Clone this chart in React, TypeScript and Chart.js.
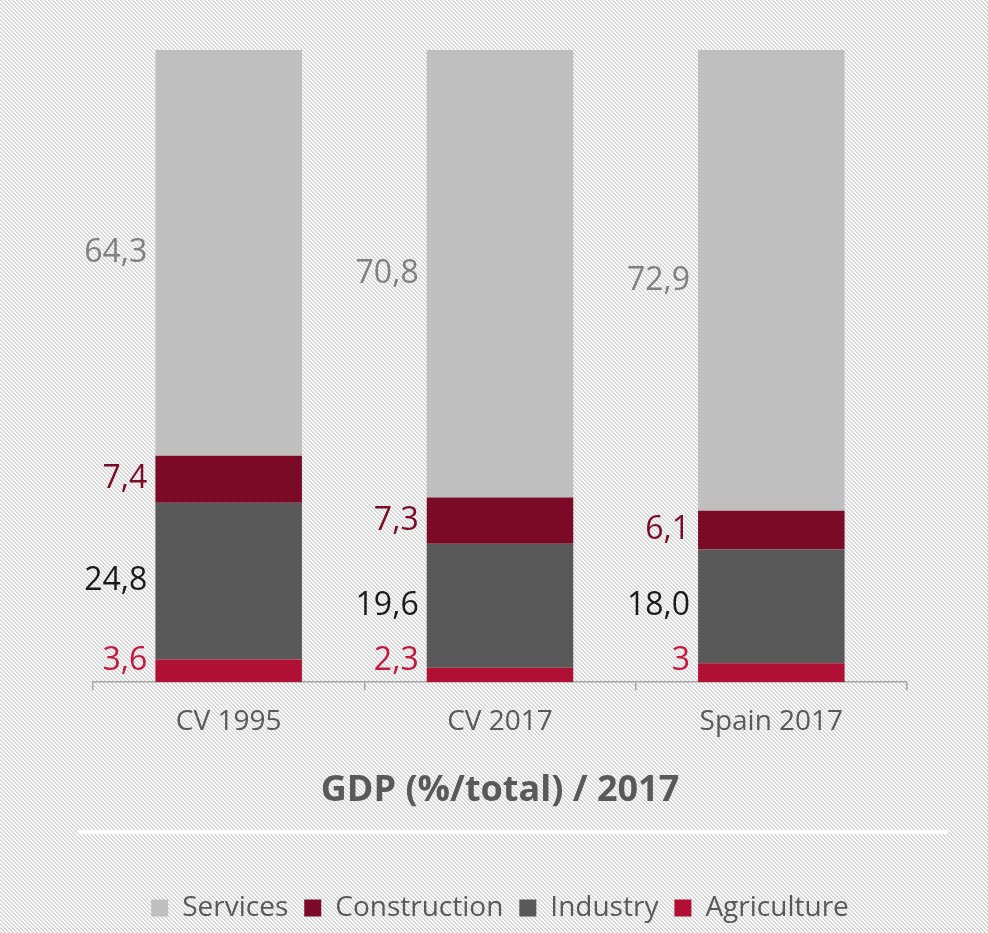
import { useEffect, useRef } from "react";
import { Chart, registerables } from "chart.js";

Chart.register(...registerables);

const categories = ["CV 1995", "CV 2017", "Spain 2017"];
const agriculture = [3.6, 2.3, 3];
const industry = [24.8, 19.6, 18.0];
const construction = [7.4, 7.3, 6.1];
const services = [64.3, 70.8, 72.9];
const seriesNames = ["Agriculture", "Industry", "Construction", "Services"];
const chartTitle = "GDP (%/total) / 2017";

const barColors = ["#b01033", "#595959", "#7b0a26", "#bfbfbf"];
const labelColors = ["#c8163c", "#1a1a1a", "#7b0a26", "#808080"];
const fixedDecimals = [false, true, false, false];

const FONT = "'Open Sans', 'Noto Sans', sans-serif";

function fmt(v: number, fixed: boolean) {
  const s = fixed ? v.toFixed(1) : String(v);
  return s.replace(".", ",");
}

const bgPlugin = {
  id: "bgHatch",
  beforeDraw(chart: any) {
    const { ctx, width, height } = chart;
    const p = document.createElement("canvas");
    p.width = 4;
    p.height = 4;
    const pc = p.getContext("2d")!;
    pc.fillStyle = "#ffffff";
    pc.fillRect(0, 0, 4, 4);
    pc.fillStyle = "#d6d6d6";
    for (let y = 0; y < 4; y++) {
      for (let x = 0; x < 4; x++) {
        if ((((x - y) % 4) + 4) % 4 < 2) pc.fillRect(x, y, 1, 1);
      }
    }
    ctx.save();
    ctx.fillStyle = ctx.createPattern(p, "repeat");
    ctx.fillRect(0, 0, width, height);
    // white separator between title and legend
    const lg = chart.legend;
    if (lg) {
      ctx.fillStyle = "#ffffff";
      ctx.fillRect(78, lg.top - 48, 870, 4);
    }
    ctx.restore();
  },
};

const labelPlugin = {
  id: "segLabels",
  afterDatasetsDraw(chart: any) {
    const ctx = chart.ctx;
    const axisY = chart.chartArea.bottom;
    ctx.save();
    ctx.font = `500 32px ${FONT}`;
    ctx.textAlign = "right";
    ctx.textBaseline = "middle";
    chart.data.datasets.forEach((ds: any, di: number) => {
      const meta = chart.getDatasetMeta(di);
      meta.data.forEach((el: any, i: number) => {
        const { x, y, base, width } = el.getProps(["x", "y", "base", "width"], true);
        // keep the text above the axis line
        const cy = Math.min((y + base) / 2, axisY - 21);
        ctx.fillStyle = labelColors[di];
        ctx.fillText(fmt(ds.data[i], fixedDecimals[di]), x - width / 2 - 8, cy);
      });
    });
    ctx.restore();
  },
};

export default function App() {
  const ref = useRef<HTMLCanvasElement>(null);
  useEffect(() => {
    document.body.style.margin = "0";
    const seriesData = [agriculture, industry, construction, services];
    const chart = new Chart(ref.current!, {
      type: "bar",
      data: {
        labels: categories,
        datasets: seriesNames.map((name, i) => ({
          label: name,
          data: seriesData[i],
          backgroundColor: barColors[i],
          borderWidth: 0,
          categoryPercentage: 1,
          barPercentage: 0.54,
        })),
      },
      options: {
        animation: false,
        responsive: false,
        maintainAspectRatio: false,
        layout: { padding: { top: 50, left: 93, right: 81, bottom: 1 } },
        scales: {
          x: {
            stacked: true,
            grid: {
              drawOnChartArea: false,
              drawTicks: true,
              tickLength: 8,
              color: "#a6a6a6",
              lineWidth: 1.5,
            },
            border: { display: true, color: "#a6a6a6", width: 1.5 },
            ticks: {
              color: "#595959",
              font: { family: FONT, size: 28, weight: "500" },
              padding: 15,
            },
            title: {
              display: true,
              text: chartTitle,
              color: "#595959",
              font: { family: FONT, size: 36, weight: "bold" },
              padding: { top: 15, bottom: 66 },
            },
          },
          y: {
            stacked: true,
            display: false,
            min: 0,
            max: 100,
          },
        },
        plugins: {
          legend: {
            position: "bottom",
            reverse: true,
            labels: {
              boxWidth: 17,
              boxHeight: 17,
              padding: 16,
              color: "#595959",
              font: { family: FONT, size: 28, weight: "500" },
            },
          },
          tooltip: { enabled: false },
        },
      },
      plugins: [bgPlugin, labelPlugin],
    });
    return () => chart.destroy();
  }, []);
  return <canvas ref={ref} width={988} height={933} style={{ display: "block" }} />;
}
